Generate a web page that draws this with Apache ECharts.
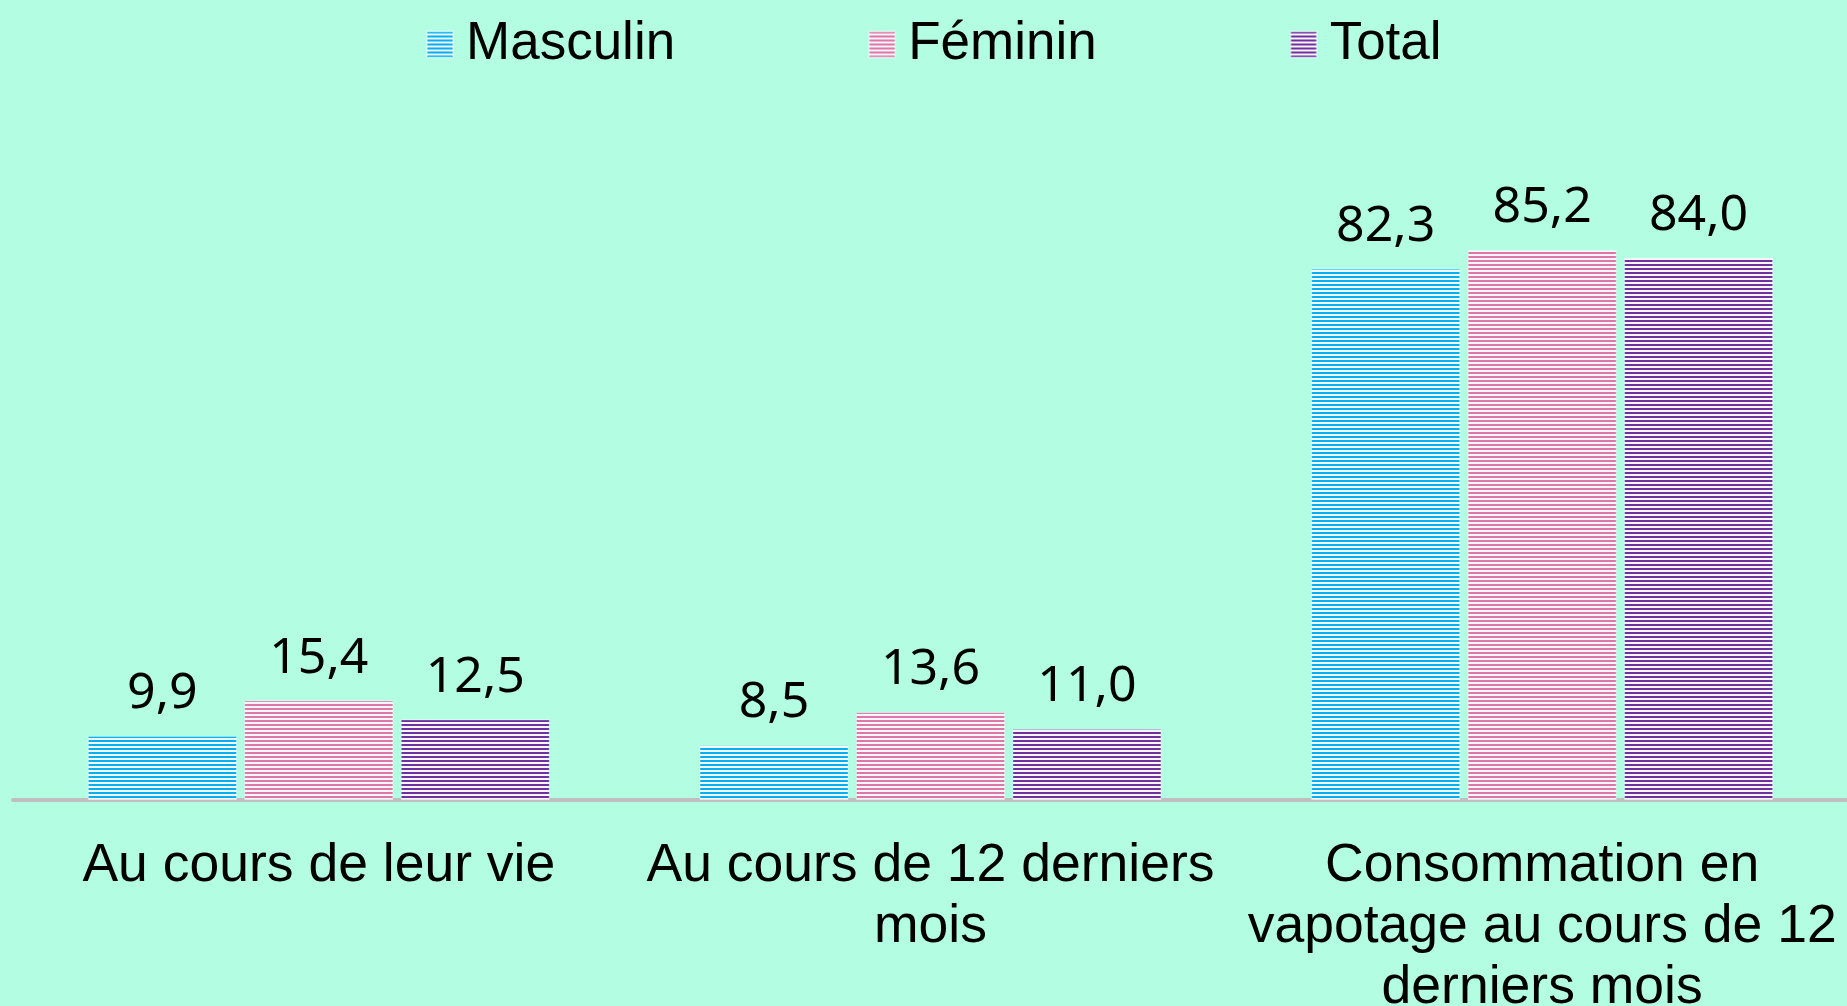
<!DOCTYPE html>
<html>
<head>
<meta charset="utf-8">
<script src="https://cdn.jsdelivr.net/npm/echarts@6/dist/echarts.min.js"></script>
<style>
  html, body { margin: 0; padding: 0; background: #B3FEE3; }
  #chart { width: 1847px; height: 1006px; }
</style>
</head>
<body>
<div id="chart"></div>
<script>
const categories = ['Au cours de leur vie', 'Au cours de 12 derniers\nmois', 'Consommation en\nvapotage au cours de 12\nderniers mois'];
const seriesNames = ['Masculin', 'Féminin', 'Total'];
const masculin = [9.9, 8.5, 82.3];
const feminin = [15.4, 13.6, 85.2];
const total = [12.5, 11.0, 84.0];

const colors = ['#00B0F0', '#E075A8', '#7030A0'];

function stripe(color) {
  const c = document.createElement('canvas');
  c.width = 4; c.height = 4;
  const ctx = c.getContext('2d');
  ctx.fillStyle = '#F4F6FA';
  ctx.fillRect(0, 0, 4, 4);
  ctx.fillStyle = color;
  ctx.fillRect(0, 0, 4, 2);
  return { image: c, repeat: 'repeat' };
}

const fmt = p => p.value.toFixed(1).replace('.', ',');

const chart = echarts.init(document.getElementById('chart'), null, { renderer: 'canvas' });
const datas = [masculin, feminin, total];
chart.setOption({
  backgroundColor: '#B3FEE3',
  animation: false,
  legend: {
    top: 13,
    left: 421,
    itemWidth: 26,
    itemHeight: 26,
    itemGap: 193,
    icon: 'rect',
    textStyle: { fontFamily: 'Liberation Sans, Arial, sans-serif', fontSize: 53, color: '#000', padding: [0, 0, 0, 8] },
    data: seriesNames
  },
  grid: { left: 13, right: -1, top: 154.5, bottom: 206, containLabel: false, outerBoundsMode: 'none' },
  xAxis: {
    type: 'category',
    data: categories,
    axisLine: { show: true, lineStyle: { color: '#BFBFBF', width: 4 } },
    axisTick: { show: false },
    axisLabel: {
      margin: 36,
      interval: 0,
      color: '#000',
      fontFamily: 'Liberation Sans, Arial, sans-serif',
      fontSize: 53.5,
      lineHeight: 61
    }
  },
  yAxis: {
    type: 'value', min: 0, max: 100, show: false, splitLine: { show: false }
  },
  series: seriesNames.map((n, i) => ({
    name: n,
    type: 'bar',
    data: datas[i],
    barWidth: 149,
    barGap: '5%',
    itemStyle: { color: stripe(colors[i]), borderColor: 'rgba(255,255,255,0.35)', borderWidth: 1 },
    label: {
      show: true,
      position: 'top',
      distance: 17,
      formatter: fmt,
      color: '#000',
      fontFamily: 'Noto Sans, sans-serif',
      fontSize: 50
    }
  }))
});
</script>
</body>
</html>
